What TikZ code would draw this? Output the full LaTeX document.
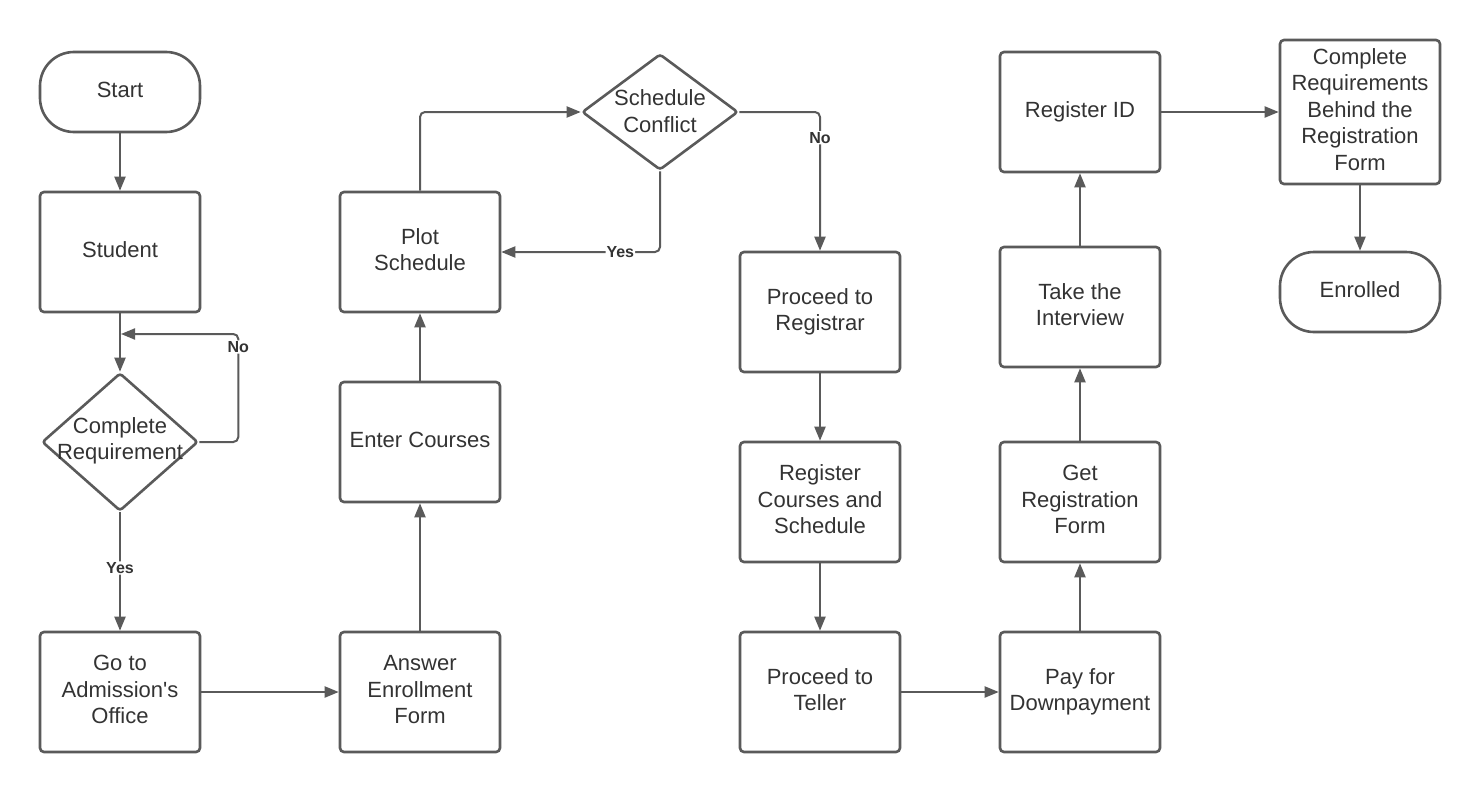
\documentclass[tikz,border=0pt]{standalone}
\usepackage{fontspec}
\setmainfont{Liberation Sans}[Ligatures=TeXOff]
\usetikzlibrary{shapes.geometric,arrows.meta}
\definecolor{ln}{HTML}{5A5A5A}
\definecolor{tx}{HTML}{333333}
\begin{document}
\begin{tikzpicture}[x=1pt,y=-1pt,
 box/.style={draw=ln, line width=2.6pt, rounded corners=4pt, minimum width=160pt, minimum height=120pt, inner sep=0pt, text=tx, align=center, font=\fontsize{22}{26.5}\selectfont, execute at end node={\rule[-5pt]{0pt}{5pt}}},
 term/.style={box, minimum height=80pt, rounded corners=34pt},
 dia/.style={draw=ln, line width=2.6pt, diamond, minimum width=156pt, inner sep=0pt, rounded corners=3pt},
 txt/.style={text=tx, align=center, font=\fontsize{22}{26.5}\selectfont, inner sep=0pt},
 arr/.style={draw=ln, line width=2pt, -{Triangle[length=14pt,width=11pt]}, rounded corners=5pt},
 lbl/.style={fill=white, text=tx, font=\bfseries\fontsize{16}{19}\selectfont, inner sep=1pt}
]
\useasboundingbox (0,0) rectangle (1480,792);
\fill[white] (0,0) rectangle (1480,792);

\node[term] (start) at (120,92) {Start};
\node[box] (student) at (120,252) {Student};
\node[dia, minimum height=138pt] (cr) at (120,442) {};
\node[txt] (crt) at (120,441) {Complete\\Requirement};
\node[box] (goto) at (120,692) {Go to\\Admission's\\Office};
\node[box] (answer) at (420,692) {Answer\\Enrollment\\Form};
\node[box] (enter) at (420,442) {Enter Courses};
\node[box] (plot) at (420,252) {Plot\\Schedule};
\node[dia, minimum height=116pt] (sc) at (660,112) {};
\node[txt] (sct) at (660,111) {Schedule\\Conflict};
\node[box] (reg) at (820,312) {Proceed to\\Registrar};
\node[box] (rcs) at (820,502) {Register\\Courses and\\Schedule};
\node[box] (teller) at (820,692) {Proceed to\\Teller};
\node[box] (pay) at (1080,692) {Pay for\\Downpayment};
\node[box] (getrf) at (1080,502) {Get\\Registration\\Form};
\node[box] (interview) at (1080,307) {Take the\\Interview};
\node[box] (regid) at (1080,112) {Register ID};
\node[box, minimum height=144pt] (crb) at (1360,112) {Complete\\Requirements\\Behind the\\Registration\\Form};
\node[term] (enrolled) at (1360,292) {Enrolled};

\coordinate (nojoin) at (121,334);

\draw[arr] (start) -- (student);
\draw[arr] (student) -- (cr);
\draw[arr] (cr.east) -- ++(39,0) |- node[lbl, pos=0.44] {No} (nojoin);
\draw[arr] (cr.south) -- node[lbl, pos=0.47] {Yes} (goto.north);
\draw[arr] (goto) -- (answer);
\draw[arr] (answer) -- (enter);
\draw[arr] (enter) -- (plot);
\draw[arr] (plot.north) |- (sc.west);
\draw[arr] (sc.south) |- node[lbl, pos=0.625] {Yes} (plot.east);
\draw[arr] (sc.east) -| node[lbl, pos=0.593] {No} (reg.north);
\draw[arr] (reg) -- (rcs);
\draw[arr] (rcs) -- (teller);
\draw[arr] (teller) -- (pay);
\draw[arr] (pay) -- (getrf);
\draw[arr] (getrf) -- (interview);
\draw[arr] (interview) -- (regid);
\draw[arr] (regid) -- (crb);
\draw[arr] (crb) -- (enrolled);
\end{tikzpicture}
\end{document}
